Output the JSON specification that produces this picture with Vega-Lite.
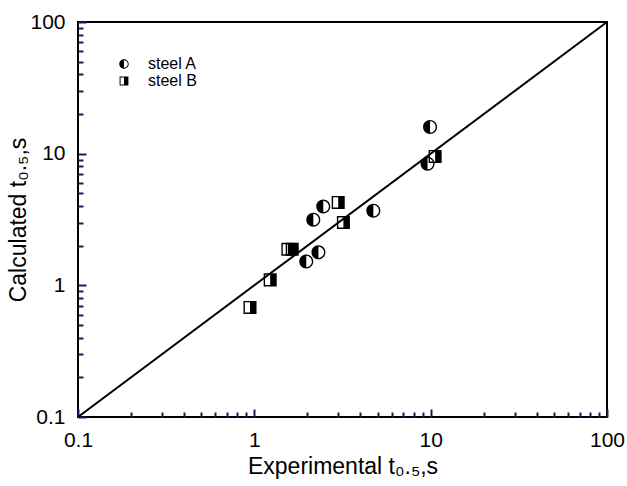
{
  "$schema": "https://vega.github.io/schema/vega-lite/v6.json",
  "width": 529,
  "height": 395,
  "autosize": "none",
  "padding": {"left": 78, "top": 22, "right": 20, "bottom": 69},
  "background": "white",
  "config": {
    "view": {"stroke": "black", "strokeWidth": 2},
    "font": "Liberation Sans",
    "axis": {"grid": false, "labelColor": "black", "titleColor": "black", "domainColor": "black"}
  },
  "datasets": {
    "pts": [
      {"steel": "steel A", "x": 9.92, "y": 15.96},
      {"steel": "steel A", "x": 9.6, "y": 8.4},
      {"steel": "steel A", "x": 2.46, "y": 3.97},
      {"steel": "steel A", "x": 2.16, "y": 3.15},
      {"steel": "steel A", "x": 4.73, "y": 3.69},
      {"steel": "steel A", "x": 2.31, "y": 1.78},
      {"steel": "steel A", "x": 1.97, "y": 1.52},
      {"steel": "steel B", "x": 10.6, "y": 9.53},
      {"steel": "steel B", "x": 2.99, "y": 4.26},
      {"steel": "steel B", "x": 3.2, "y": 3.0},
      {"steel": "steel B", "x": 1.55, "y": 1.88},
      {"steel": "steel B", "x": 1.64, "y": 1.88},
      {"steel": "steel B", "x": 1.23, "y": 1.1},
      {"steel": "steel B", "x": 0.945, "y": 0.68}
    ],
    "diag": [
      {"x": 0.1, "y": 0.1},
      {"x": 100, "y": 100}
    ]
  },
  "layer": [
    {
      "data": {"name": "pts"},
      "mark": {"type": "point", "filled": true, "fill": "white", "strokeWidth": 0, "size": 196, "opacity": 1},
      "encoding": {
        "x": {"field": "x", "type": "quantitative", "scale": {"type": "log", "domain": [0.1, 100]},
          "axis": {"orient": "bottom", "offset": -5, "values": [0.2,0.3,0.4,0.5,0.6,0.7,0.8,0.9,2,3,4,5,6,7,8,9,20,30,40,50,60,70,80,90], "labels": false, "domain": false, "tickSize": 5, "tickWidth": 2, "tickColor": "#1a1a60", "title": null}},
        "y": {"field": "y", "type": "quantitative", "scale": {"type": "log", "domain": [0.1, 100]},
          "axis": {"orient": "left", "offset": -5, "values": [0.2,0.3,0.4,0.5,0.6,0.7,0.8,0.9,2,3,4,5,6,7,8,9,20,30,40,50,60,70,80,90], "labels": false, "domain": false, "tickSize": 5, "tickWidth": 2, "tickColor": "#1a1a60", "title": null}},
        "shape": {"field": "steel", "type": "nominal",
          "scale": {"domain": ["steel A", "steel B"], "range": ["M-1,0A1,1 0 1,1 1,0A1,1 0 1,1 -1,0Z", "M-0.93,-0.93L0.93,-0.93L0.93,0.93L-0.93,0.93Z"]},
          "legend": null}
      }
    },
    {
      "data": {"name": "pts"},
      "mark": {"type": "point", "filled": true, "fill": "black", "strokeWidth": 0, "size": 196, "opacity": 1},
      "encoding": {
        "x": {"field": "x", "type": "quantitative", "scale": {"type": "log", "domain": [0.1, 100]}, "axis": null},
        "y": {"field": "y", "type": "quantitative", "scale": {"type": "log", "domain": [0.1, 100]}, "axis": null},
        "shape": {"field": "steel", "type": "nominal",
          "scale": {"domain": ["steel A", "steel B"], "range": [
            "M-1,0A1,1 0 1,1 1,0A1,1 0 1,1 -1,0ZM-0.8,0A0.8,0.8 0 1,0 0.8,0A0.8,0.8 0 1,0 -0.8,0ZM0,0.8A0.8,0.8 0 0,1 0,-0.8Z",
            "M-0.93,-0.93L0.93,-0.93L0.93,0.93L-0.93,0.93ZM-0.73,-0.73L-0.73,0.73L0.73,0.73L0.73,-0.73ZM0,-0.73L0.73,-0.73L0.73,0.73L0,0.73Z"]},
          "legend": {"orient": "none", "legendX": 38, "legendY": 34, "title": null, "padding": 0, "symbolSize": 90, "symbolStrokeWidth": 0, "symbolFillColor": "black", "symbolOpacity": 1, "labelFontSize": 16, "labelColor": "black", "labelOffset": 16, "rowPadding": 1}}
      }
    },
    {
      "data": {"name": "diag"},
      "mark": {"type": "line", "color": "black", "strokeWidth": 2},
      "encoding": {
        "x": {"field": "x", "type": "quantitative", "scale": {"type": "log", "domain": [0.1, 100]},
          "axis": {"orient": "bottom", "offset": -8, "values": [0.1, 1, 10, 100], "format": "~g", "tickSize": 8, "tickWidth": 2, "tickColor": "#1a1a60", "domain": false, "labelFontSize": 21, "labelPadding": 12, "labelFlush": false, "title": "Experimental t₀.₅,s", "titleFontSize": 23, "titleFontWeight": "normal", "titlePadding": 5}},
        "y": {"field": "y", "type": "quantitative", "scale": {"type": "log", "domain": [0.1, 100]},
          "axis": {"orient": "left", "offset": -8, "values": [0.1, 1, 10, 100], "format": "~g", "tickSize": 8, "tickWidth": 2, "tickColor": "#1a1a60", "domain": false, "labelFontSize": 21, "labelPadding": 13, "labelFlush": false, "title": "Calculated t₀.₅,s", "titleFontSize": 23, "titleFontWeight": "normal", "titlePadding": -1}}
      }
    }
  ],
  "resolve": {
    "axis": {"x": "independent", "y": "independent"},
    "scale": {"shape": "independent"},
    "legend": {"shape": "independent"}
  }
}
